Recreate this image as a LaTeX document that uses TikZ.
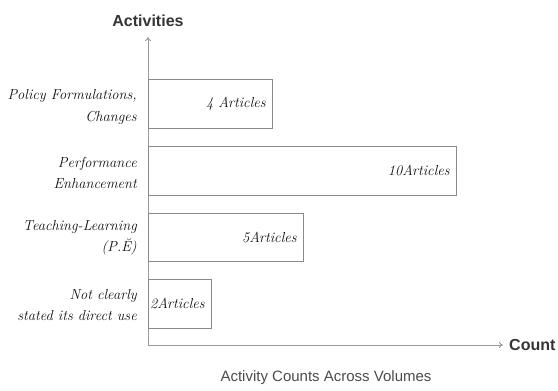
\documentclass[tikz,border=0pt]{standalone}
\usepackage{fontspec}
\newfontfamily\axisfont{Liberation Sans}
\usetikzlibrary{arrows.meta}
\definecolor{barline}{HTML}{8A8A8A}
\definecolor{axisline}{HTML}{9A9A9A}
\definecolor{txt}{HTML}{111111}
\tikzset{
  barbox/.style={draw=barline, line width=0.9pt, fill=white, inner sep=0pt, anchor=north west},
  bartext/.style={font=\fontsize{14.5}{16}\selectfont\itshape, text=txt, anchor=east, inner sep=0pt},
  cat/.style={font=\fontsize{14.5}{21.5}\selectfont\itshape, text=txt, align=right, anchor=east, inner sep=0pt},
  axis/.style={draw=axisline, line width=0.9pt, -{To[length=4pt,width=6pt]}},
  axlabel/.style={font=\axisfont\bfseries\fontsize{16}{18}\selectfont, text=txt!85!white, inner sep=0pt},
}
\begin{document}
\begin{tikzpicture}[x=1pt,y=-1pt]
\useasboundingbox (0,0) rectangle (558,391);
% axes
\coordinate (o) at (148,345);
\coordinate (ytip) at (148,37);
\coordinate (xtip) at (503,345);
\draw[axis] (o) -- (ytip);
\draw[axis] (o) -- (xtip);
\node[axlabel] (ytitle) at (148,21) {Activities};
\node[axlabel, anchor=west] (xtitle) at (509,345) {Count};
\node[font=\axisfont\fontsize{15}{17}\selectfont, text=txt!75!white, inner sep=0pt] (cap) at (326,378) {Activity Counts Across Volumes};
% bars
\node[barbox, minimum width=124pt, minimum height=49pt] (b1) at (148,79) {};
\node[barbox, minimum width=308pt, minimum height=49pt] (b2) at (148,146) {};
\node[barbox, minimum width=155pt, minimum height=48pt] (b3) at (148,213) {};
\node[barbox, minimum width=63pt, minimum height=49pt] (b4) at (148,279) {};
\node[bartext] (t1) at ([xshift=-7pt]b1.east) {4 Articles};
\node[bartext] (t2) at ([xshift=-7pt]b2.east) {10Articles};
\node[bartext] (t3) at ([xshift=-7pt]b3.east) {5Articles};
\node[bartext] (t4) at ([xshift=-7pt]b4.east) {2Articles};
% category labels
\node[cat] (c1) at (137,107) {Policy Formulations,\\Changes};
\node[cat] (c2) at (137,173) {Performance\\Enhancement};
\node[cat] (c3) at (137,238) {Teaching-Learning\\(P.Ĕ)};
\node[cat] (c4) at (137,305) {Not clearly\\stated its direct use};
\end{tikzpicture}
\end{document}
